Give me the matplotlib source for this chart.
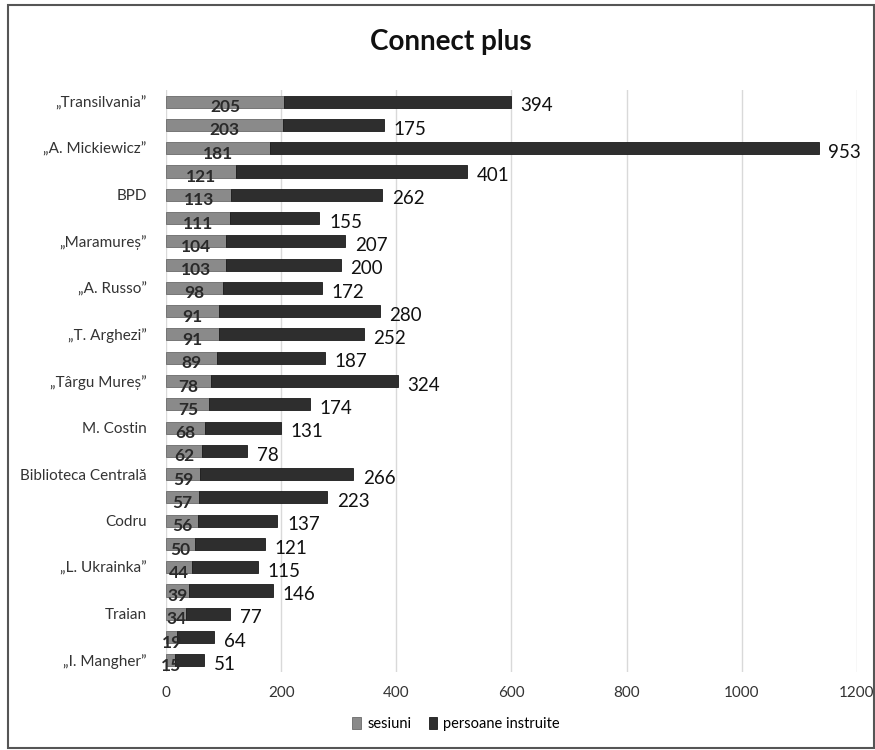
import matplotlib.pyplot as plt
from matplotlib.patches import Rectangle

plt.rcParams['font.family'] = ['Lato', 'DejaVu Sans']

# date (de sus in jos)
categorii = ['„Transilvania”', '', '„A. Mickiewicz”', '', 'BPD', '',
             '„Maramureș”', '', '„A. Russo”', '', '„T. Arghezi”', '',
             '„Târgu Mureș”', '', 'M. Costin', '', 'Biblioteca Centrală', '',
             'Codru', '', '„L. Ukrainka”', '', 'Traian', '', '„I. Mangher”']
sesiuni = [205, 203, 181, 121, 113, 111, 104, 103, 98, 91, 91, 89,
           78, 75, 68, 62, 59, 57, 56, 50, 44, 39, 34, 19, 15]
persoane = [394, 175, 953, 401, 262, 155, 207, 200, 172, 280, 252, 187,
            324, 174, 131, 78, 266, 223, 137, 121, 115, 146, 77, 64, 51]
x_ticks = [0, 200, 400, 600, 800, 1000, 1200]

fig = plt.figure(figsize=(8.75, 7.5), dpi=100)
ax = fig.add_axes([0.19, 0.104, 0.789, 0.776])

y = list(range(len(categorii)))
b1 = ax.barh(y, sesiuni, height=0.52, color='#8a8a8a', edgecolor='#6a6a6a',
             linewidth=0.6, label='sesiuni', zorder=3)
b2 = ax.barh(y, persoane, left=sesiuni, height=0.52, color='#2e2e2e',
             edgecolor='#1a1a1a', linewidth=0.6, label='persoane instruite', zorder=3)

# etichete sesiuni - in interiorul segmentului gri, usor mai jos
for rect, v in zip(b1, sesiuni):
    ax.annotate(str(v), (rect.get_x() + rect.get_width() / 2, rect.get_y() + rect.get_height() / 2),
                xytext=(0, -4), textcoords='offset points', ha='center', va='center',
                fontsize=12.5, fontweight='bold', color='#2a2a2a', zorder=4)

# etichete persoane - dupa capatul barei
for rect, v in zip(b2, persoane):
    ax.annotate(str(v), (rect.get_x() + rect.get_width(), rect.get_y() + rect.get_height() / 2),
                xytext=(7, -3), textcoords='offset points', ha='left', va='center',
                fontsize=13.5, color='#111111', zorder=4)

ax.set_yticks(y)
ax.set_yticklabels(categorii, fontsize=11, color='#333333')
ax.set_ylim(len(categorii) - 0.5, -0.5)
ax.set_xlim(0, 1200)
ax.set_xticks(x_ticks)
ax.set_xticklabels([str(t) for t in x_ticks], fontsize=11, color='#333333')
ax.tick_params(length=0, pad=10)
ax.tick_params(axis='y', pad=14)
ax.grid(axis='x', color='#d9d9d9', linewidth=1, zorder=0)
for s in ax.spines.values():
    s.set_visible(False)

fig.text(0.515, 0.944, 'Connect plus', ha='center', va='center',
         fontsize=20, fontweight='bold', color='#111111')

ax.legend(loc='upper center', bbox_to_anchor=(0.42, -0.055), ncol=2, frameon=False,
          fontsize=10.5, handlelength=0.6, handleheight=0.8, handletextpad=0.4,
          columnspacing=1.2)

fig.patches.append(Rectangle((0.009, 0.003), 0.99, 0.991, transform=fig.transFigure,
                             fill=False, edgecolor='#555555', linewidth=1.5))

fig.savefig('out.png', dpi=100)
